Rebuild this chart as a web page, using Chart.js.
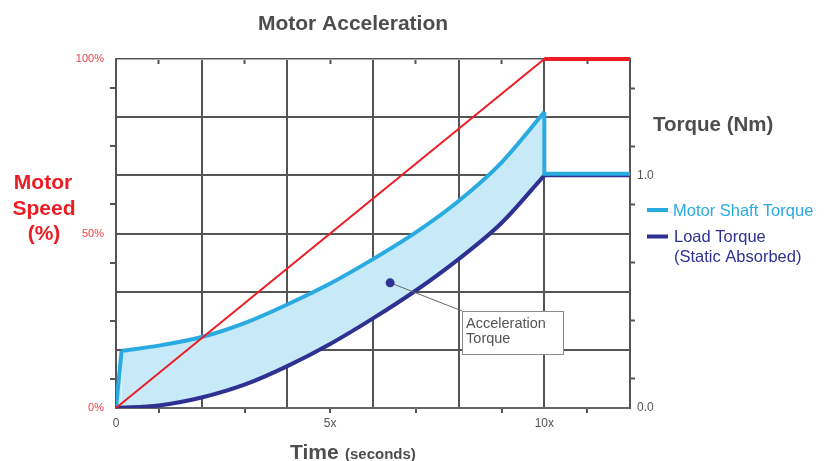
<!DOCTYPE html>
<html><head><meta charset="utf-8">
<script src="https://cdn.jsdelivr.net/npm/chart.js@4.4.0/dist/chart.umd.min.js"></script>
<style>html,body{margin:0;padding:0;background:#fff;}canvas{display:block;}</style>
</head><body>
<canvas id="c" width="825" height="461"></canvas>
<script>
// ---- data ----
const speedTime = [0, 10, 12];
const speedPct = [0, 100, 100];

const loadTime = [0, 1, 2, 3, 4, 5, 6, 7, 8, 9, 10];
const loadTorque = [0, 0.011, 0.045, 0.1, 0.18, 0.275, 0.385, 0.505, 0.64, 0.795, 1.0];
const loadFlatTime = [10, 12];
const loadFlatTorque = [1.0, 1.0];

const motorRiseTime = [0, 0.13];
const motorRiseTorque = [0, 0.246];
const motorTime = [0.13, 1, 2, 3, 4, 5, 6, 7, 8, 9, 10];
const motorTorque = [0.246, 0.268, 0.305, 0.365, 0.445, 0.535, 0.64, 0.755, 0.89, 1.055, 1.272];
const motorDropTime = [10, 10, 12];
const motorDropTorque = [1.272, 1.007, 1.007];

const accelPointTime = [6.4];
const accelPointTorque = [0.538];
const leaderTime = [6.4, 8.08];
const leaderTorque = [0.538, 0.417];

const timeTicks = [0, 1, 2, 3, 4, 5, 6, 7, 8, 9, 10, 11, 12];
const speedTicks = [0, 8.3333, 16.6667, 25, 33.3333, 41.6667, 50, 58.3333, 66.6667, 75, 83.3333, 91.6667, 100];
const torqueTicks = [0, 0.125, 0.25, 0.375, 0.5, 0.625, 0.75, 0.875, 1.0, 1.125, 1.25, 1.375, 1.5];
const timeLabels = [[0, '0'], [5, '5x'], [10, '10x']];
const speedLabels = [[0, '0%'], [50, '50%'], [100, '100%']];
const torqueLabels = [[0, '0.0'], [1, '1.0']];
const legendLabels = ['Motor Shaft Torque', 'Load Torque', '(Static Absorbed)'];

// ---- helpers ----
const pts = (xs, ys) => xs.map((x, i) => ({x: x, y: ys[i]}));
const lab = (list, v) => { for (const [k, t] of list) if (Math.abs(k - v) < 0.01) return t; return ''; };
const FONT = '"Liberation Sans", Arial, Helvetica, sans-serif';
const GRID = '#555555';
const RED = '#ED1C24', BLUE = '#29ABE2', NAVY = '#2E3192', FILL = '#C8E9F8';

Chart.defaults.font.family = FONT;

function setTicks(list){ return (scale) => { scale.ticks = list.map(v => ({value: v})); }; }
const isMajor2 = (arr, v) => { const i = arr.findIndex(a => Math.abs(a - v) < 1e-3); return i % 2 === 0; };

const textPlugin = {
  id: 'texts',
  afterDraw(chart) {
    const c = chart.ctx;
    const xs = chart.scales.x, yt = chart.scales.yT;
    c.save();
    c.textBaseline = 'alphabetic';
    // title
    c.fillStyle = '#4d4d4d'; c.font = 'bold 21px ' + FONT; c.textAlign = 'center';
    c.fillText('Motor Acceleration', 353, 30);
    // left axis title
    c.fillStyle = RED; c.font = 'bold 21px ' + FONT;
    c.fillText('Motor', 43, 189); c.fillText('Speed', 44, 214.5); c.fillText('(%)', 44, 240);
    // right axis title
    c.textAlign = 'left'; c.fillStyle = '#4d4d4d'; c.font = 'bold 20.5px ' + FONT;
    c.fillText('Torque (Nm)', 653, 131);
    // legend
    c.lineWidth = 4; c.lineCap = 'butt';
    c.strokeStyle = BLUE; c.beginPath(); c.moveTo(647, 210); c.lineTo(668, 210); c.stroke();
    c.strokeStyle = NAVY; c.beginPath(); c.moveTo(647, 236.5); c.lineTo(668, 236.5); c.stroke();
    c.font = '16.5px ' + FONT;
    c.fillStyle = BLUE; c.fillText(legendLabels[0], 673, 215.5);
    c.fillStyle = NAVY; c.fillText(legendLabels[1], 674, 241.5); c.fillText(legendLabels[2], 674, 261.5);
    // x axis title
    c.fillStyle = '#4d4d4d'; c.font = 'bold 21px ' + FONT; c.fillText('Time', 290, 459);
    c.font = 'bold 15px ' + FONT; c.fillText('(seconds)', 345, 459);
    // annotation box
    const bx1 = xs.getPixelForValue(8.08), by1 = yt.getPixelForValue(0.417);
    const bx2 = xs.getPixelForValue(10.44), by2 = yt.getPixelForValue(0.232);
    c.fillStyle = '#ffffff'; c.fillRect(bx1, by1, bx2 - bx1, by2 - by1);
    c.strokeStyle = '#8a8a8a'; c.lineWidth = 1;
    c.strokeRect(Math.round(bx1) + 0.5, Math.round(by1) + 0.5, Math.round(bx2 - bx1), Math.round(by2 - by1));
    c.fillStyle = '#555555'; c.font = '14.5px ' + FONT;
    c.fillText('Acceleration', bx1 + 4, by1 + 17);
    c.fillText('Torque', bx1 + 4, by1 + 32);
    c.restore();
  }
};

new Chart(document.getElementById('c'), {
  type: 'line',
  data: {
    datasets: [
      { label: 'Motor Speed', data: pts(speedTime, speedPct), yAxisID: 'y', borderColor: RED, borderWidth: 2,
        segment: { borderWidth: ctx => ctx.p0.parsed.x >= 9.99 ? 4 : 2 }, pointRadius: 0, tension: 0, clip: false, order: 1 },
      { label: 'Load Torque', data: pts(loadTime, loadTorque), yAxisID: 'yT', borderColor: NAVY, borderWidth: 4,
        pointRadius: 0, cubicInterpolationMode: 'monotone', tension: 0.4, order: 5 },
      { label: 'Load Torque flat', data: pts(loadFlatTime, loadFlatTorque), yAxisID: 'yT', borderColor: NAVY, borderWidth: 4,
        pointRadius: 0, tension: 0, order: 5 },
      { label: 'Motor Shaft rise', data: pts(motorRiseTime, motorRiseTorque), yAxisID: 'yT', borderColor: BLUE, borderWidth: 4,
        pointRadius: 0, tension: 0, fill: 1, backgroundColor: FILL, order: 6, borderJoinStyle: 'round' },
      { label: 'Motor Shaft Torque', data: pts(motorTime, motorTorque), yAxisID: 'yT', borderColor: BLUE, borderWidth: 4,
        pointRadius: 0, cubicInterpolationMode: 'monotone', tension: 0.4, fill: 1, backgroundColor: FILL, order: 6 },
      { label: 'Motor Shaft drop', data: pts(motorDropTime, motorDropTorque), yAxisID: 'yT', borderColor: BLUE, borderWidth: 4,
        pointRadius: 0, tension: 0, order: 4 },
      { label: 'leader', data: pts(leaderTime, leaderTorque), yAxisID: 'yT', borderColor: '#666666', borderWidth: 1,
        pointRadius: 0, tension: 0, order: 3 },
      { label: 'Acceleration Torque', data: pts(accelPointTime, accelPointTorque), yAxisID: 'yT', showLine: false,
        pointRadius: 4.5, pointBackgroundColor: NAVY, pointBorderColor: NAVY, pointBorderWidth: 0, order: 2 }
    ]
  },
  options: {
    responsive: false, animation: false, devicePixelRatio: 1,
    layout: { padding: { left: 60, top: 51, right: 155, bottom: 23 } },
    plugins: { legend: { display: false }, tooltip: { enabled: false }, title: { display: false } },
    scales: {
      x: {
        type: 'linear', position: 'bottom', min: 0, max: 12,
        afterBuildTicks: setTicks(timeTicks),
        afterFit: s => { s.height = 30; },
        grid: { color: c => (c.tick && c.tick.value % 2 === 0) ? GRID : 'rgba(0,0,0,0)', lineWidth: 2,
                tickColor: c => (c.tick && c.tick.value % 2 === 1) ? GRID : 'rgba(0,0,0,0)', tickLength: 5, tickWidth: 2 },
        border: { display: true, color: '#666666', width: 2 },
        ticks: { autoSkip: false, maxRotation: 0, padding: 3, color: '#555555', font: { size: 12 },
                 callback: v => lab(timeLabels, v) }
      },
      xTop: {
        type: 'linear', axis: 'x', position: 'top', min: 0, max: 12,
        afterBuildTicks: setTicks(timeTicks),
        afterFit: s => { s.height = 8; },
        grid: { drawOnChartArea: false, tickColor: c => (c.tick && c.tick.value % 2 === 1) ? GRID : 'rgba(0,0,0,0)', tickLength: -5, tickWidth: 2 },
        border: { display: true, color: '#aaaaaa', width: 1 },
        ticks: { display: false }
      },
      y: {
        type: 'linear', position: 'left', min: 0, max: 100,
        afterBuildTicks: setTicks(speedTicks),
        afterFit: s => { s.width = 56; },
        grid: { color: c => (c.tick && isMajor2(speedTicks, c.tick.value)) ? GRID : 'rgba(0,0,0,0)', lineWidth: 2,
                tickColor: c => (c.tick && !isMajor2(speedTicks, c.tick.value)) ? GRID : 'rgba(0,0,0,0)', tickLength: 6, tickWidth: 2 },
        border: { display: true, color: GRID, width: 2 },
        ticks: { autoSkip: false, padding: 6, color: '#EF4046', font: { size: 11 }, callback: v => lab(speedLabels, v) }
      },
      yT: {
        type: 'linear', position: 'right', min: 0, max: 1.5,
        afterBuildTicks: setTicks(torqueTicks),
        afterFit: s => { s.width = 40; },
        grid: { drawOnChartArea: false, tickColor: c => (c.tick && !isMajor2(torqueTicks, c.tick.value)) ? GRID : 'rgba(0,0,0,0)', tickLength: 5, tickWidth: 2 },
        border: { display: true, color: GRID, width: 2 },
        ticks: { autoSkip: false, padding: 2, color: '#555555', font: { size: 12 }, callback: v => lab(torqueLabels, v) }
      }
    }
  },
  plugins: [textPlugin]
});
</script>
</body></html>
